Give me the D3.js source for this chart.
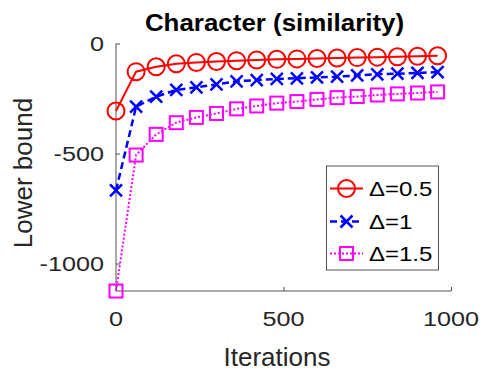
<!DOCTYPE html>
<html>
<head>
<meta charset="utf-8">
<script src="https://cdn.jsdelivr.net/npm/d3@7"></script>
<style>
  body { margin: 0; background: #fff; }
  svg { display: block; }
</style>
</head>
<body>
<script>

// iterations where the bound was recorded
var iterations = [0, 60, 120, 180, 240, 300, 360, 420, 480, 540, 600, 660, 720, 780, 840, 900, 960];

// lower bound for each delta
var delta05 = [-307, -128, -106, -92, -86, -82, -78, -75, -72, -70, -68, -66, -64, -62, -60, -58, -56];
var delta1 = [-668, -287, -242, -211, -199, -186, -172, -166, -161, -158, -154, -151, -145, -140, -137, -134, -130];
var delta15 = [-1125, -507, -413, -360, -336, -318, -297, -284, -271, -264, -254, -246, -241, -234, -229, -225, -220];

var legendNames = ["\u0394=0.5", "\u0394=1", "\u0394=1.5"];
var xTicks = [0, 500, 1000];
var yTicks = [-1000, -500, 0];

var width = 498, height = 374;
var font = "'Liberation Sans', Arial, sans-serif";
var ink = "#262626";

var svg = d3.select("body")
    .append("svg")
    .attr("width", width)
    .attr("height", height);

// scales
var x_scale = d3.scaleLinear().domain([0, 1000]).range([116, 451]);
var y_scale = d3.scaleLinear().domain([-1125, 0]).range([291, 43.5]);

// text helper, stretched a bit sideways like the original
function label(x, y, str, size, anchor, sx, extra) {
    return svg.append("text")
        .attr("transform", "translate(" + x + "," + y + ") " + (extra || "") + " scale(" + sx + ",1)")
        .attr("font-family", font)
        .attr("font-size", size)
        .attr("text-anchor", anchor)
        .attr("fill", ink)
        .text(str);
}

// axes (box off, ticks point inward)
var x_axis = d3.axisTop(x_scale).tickValues(xTicks).tickSize(4).tickFormat("");
var y_axis = d3.axisRight(y_scale).tickValues(yTicks).tickSize(4).tickFormat("");

var gx = svg.append("g").attr("transform", "translate(0," + y_scale.range()[0] + ")").call(x_axis);
var gy = svg.append("g").attr("transform", "translate(" + x_scale.range()[0] + ",0)").call(y_axis);

[gx, gy].forEach(function(g) {
    g.select(".domain").attr("stroke", ink).attr("stroke-width", 0.8);
    g.selectAll(".tick line").attr("stroke", ink).attr("stroke-width", 0.8);
});
gx.select(".domain").attr("d", "M" + x_scale(0) + ",0H" + x_scale(1000));
gy.select(".domain").attr("d", "M0," + y_scale(-1125) + "V" + y_scale(0));

// tick labels
xTicks.forEach(function(t) {
    label(x_scale(t), 326, String(t), 21, "middle", 1.2);
});
yTicks.forEach(function(t) {
    label(104, y_scale(t) + 7.5, String(t), 21, "end", 1.2);
});

// axis titles
label(277, 366, "Iterations", 26, "middle", 1);
label(32, 173, "Lower bound", 26, "middle", 1, "rotate(-90)");

// title
label(274.5, 31, "Character (similarity)", 24, "middle", 1.08)
    .attr("font-weight", "bold")
    .attr("fill", "#000");

var series = [
    {name: legendNames[0], values: delta05, color: "#ff0000", dash: null, marker: "circle"},
    {name: legendNames[1], values: delta1, color: "#0000ff", dash: "7,4", marker: "cross"},
    {name: legendNames[2], values: delta15, color: "#ff00ff", dash: "2,2", marker: "square"}
];

// draws one marker at (cx, cy)
function marker(g, type, cx, cy, color) {
    if (type == "circle") {
        g.append("circle").attr("cx", cx).attr("cy", cy).attr("r", 8.5)
            .attr("fill", "none").attr("stroke", color).attr("stroke-width", 2);
    } else if (type == "square") {
        g.append("rect").attr("x", cx - 6.5).attr("y", cy - 6.5)
            .attr("width", 13).attr("height", 13)
            .attr("fill", "none").attr("stroke", color).attr("stroke-width", 2);
    } else {
        var s = 6;
        g.append("path")
            .attr("d", "M" + (cx - s) + "," + (cy - s) + "L" + (cx + s) + "," + (cy + s) +
                       "M" + (cx - s) + "," + (cy + s) + "L" + (cx + s) + "," + (cy - s))
            .attr("stroke", color).attr("stroke-width", 2.5).attr("fill", "none");
    }
}

var line = d3.line()
    .x(function(d) { return x_scale(d[0]); })
    .y(function(d) { return y_scale(d[1]); });

series.forEach(function(s) {
    var pts = iterations.map(function(it, i) { return [it, s.values[i]]; });
    var g = svg.append("g");
    g.append("path")
        .datum(pts)
        .attr("d", line)
        .attr("fill", "none")
        .attr("stroke", s.color)
        .attr("stroke-width", s.marker == "cross" ? 2.5 : 2)
        .attr("stroke-dasharray", s.dash);
    pts.forEach(function(p) {
        marker(g, s.marker, x_scale(p[0]), y_scale(p[1]), s.color);
    });
});

// legend
var leg = svg.append("g");
leg.append("rect")
    .attr("x", 326.5).attr("y", 166)
    .attr("width", 112).attr("height", 104)
    .attr("fill", "#fff").attr("stroke", ink).attr("stroke-width", 0.8);

var rows = [188.5, 221.5, 253.5];
series.forEach(function(s, i) {
    var y = rows[i];
    leg.append("line")
        .attr("x1", 330).attr("x2", 363).attr("y1", y).attr("y2", y)
        .attr("stroke", s.color)
        .attr("stroke-width", s.marker == "cross" ? 2.5 : 2)
        .attr("stroke-dasharray", s.dash);
    marker(leg, s.marker, 346.5, y, s.color);
    label(369, y + 7.5, s.name, 20, "start", 1.2).attr("fill", "#000");
});

</script>
</body>
</html>
